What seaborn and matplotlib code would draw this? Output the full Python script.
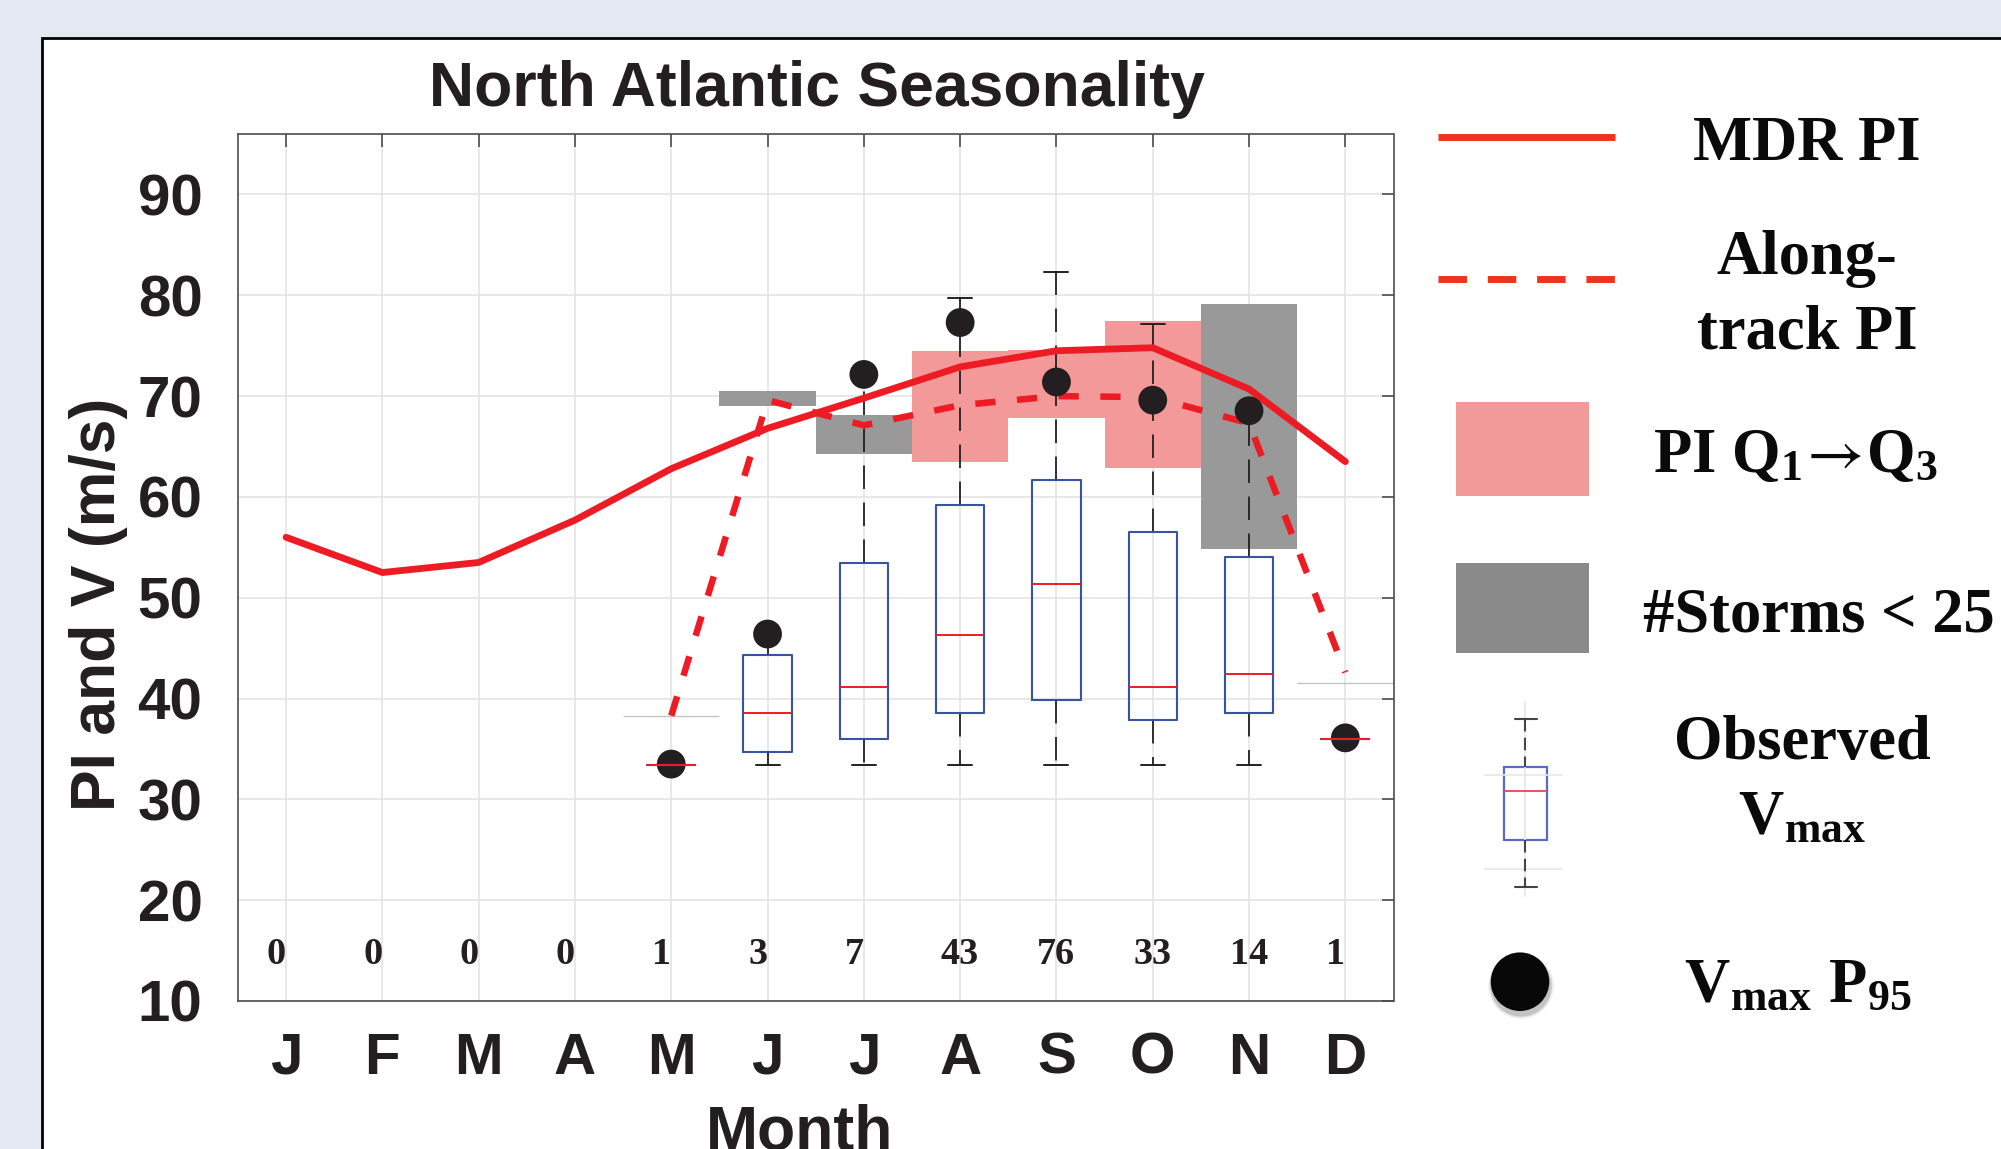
import numpy as np
import pandas as pd
import matplotlib
matplotlib.use('Agg')
import matplotlib.pyplot as plt
import seaborn as sns
from matplotlib.patches import Rectangle, Circle
from matplotlib.lines import Line2D

# ---------------- data ----------------
month_labels = ['J', 'F', 'M', 'A', 'M', 'J', 'J', 'A', 'S', 'O', 'N', 'D']
month_num = np.arange(1, 13)
mdr_pi = [56.0, 52.5, 53.5, 57.7, 62.8, 66.8, 69.8, 72.9, 74.5, 74.8, 70.7, 63.5]
along_track_pi = [np.nan] * 4 + [38.3, 69.6, 67.1, 69.1, 70.0, 69.9, 67.3, 42.6]
pi_q1 = [np.nan] * 4 + [38.3, 69.0, 64.3, 63.5, 67.8, 62.9, 54.8, 41.5]
pi_q3 = [np.nan] * 4 + [38.3, 70.55, 68.1, 74.45, 74.6, 77.45, 79.1, 41.5]
storm_counts = [0, 0, 0, 0, 1, 3, 7, 43, 76, 33, 14, 1]
storm_threshold = 25

box_months = [5, 6, 7, 8, 9, 10, 11, 12]
vmax_low = [33.4, 33.4, 33.4, 33.4, 33.4, 33.4, 33.4, 36.0]
vmax_q1 = [33.4, 34.7, 36.0, 38.6, 39.9, 37.9, 38.55, 36.0]
vmax_med = [33.4, 38.6, 41.15, 46.3, 51.4, 41.15, 42.45, 36.0]
vmax_q3 = [33.4, 44.35, 53.4, 59.15, 61.7, 56.55, 54.0, 36.0]
vmax_high = [33.4, 46.4, 72.2, 79.75, 82.3, 77.15, 68.5, 36.0]
vmax_p95 = [33.5, 46.4, 72.15, 77.3, 71.4, 69.6, 68.55, 36.1]

# ---------------- styling ----------------
W, H, DPI = 2001, 1149, 100
sns.set_theme(style='white')
plt.rcParams['font.family'] = ['Liberation Sans', 'DejaVu Sans']
plt.rcParams['mathtext.fontset'] = 'stix'
SERIF = ['Liberation Serif', 'DejaVu Serif']
RED = '#ED1C24'
PINK = '#F4999A'
GRAY = '#999999'
BLUE = '#3953A4'
DARK = '#231F20'
AXC = '#4D4D4D'

fig = plt.figure(figsize=(W / DPI, H / DPI), dpi=DPI, facecolor='#E3E8F2')
panel = Rectangle((41.5 / W, -0.05), 1.2, 1.05 - 38 / H, transform=fig.transFigure,
                  facecolor='white', edgecolor='black', lw=2.0, zorder=-10)
fig.patches.append(panel)

ax = fig.add_axes([237.9 / W, 1 - 1001 / H, (1393.5 - 237.9) / W, (1001 - 134) / H])
ax.set_zorder(1)
ax.set_facecolor('white')
ax.set_xlim(0.5, 12.5)
ax.set_ylim(10, 96)
ax.grid(True, color='#E4E4E4', lw=1.2)
ax.set_axisbelow(True)

# PI Q1->Q3 patches
df_pi = pd.DataFrame({'month': month_num, 'q1': pi_q1, 'q3': pi_q3, 'n': storm_counts}).dropna()
heights = (df_pi['q3'] - df_pi['q1']).values
face = [GRAY if n < storm_threshold else PINK for n in df_pi['n']]
edge = ['#C4C4C4' if h == 0 else 'none' for h in heights]
ax.bar(df_pi['month'], heights, bottom=df_pi['q1'], width=1.0, color=face,
       edgecolor=edge, linewidth=1.0, zorder=1.5)

# PI lines
df_line = pd.DataFrame({'month': month_num, 'mdr': mdr_pi, 'along': along_track_pi})
sns.lineplot(data=df_line, x='month', y='mdr', ax=ax, color=RED, linewidth=4.9,
             errorbar=None, legend=False, zorder=2.5)
sns.lineplot(data=df_line.dropna(), x='month', y='along', ax=ax, color=RED, linewidth=4.7,
             errorbar=None, legend=False, zorder=2.5)
ax.lines[-1].set_dashes([3.1, 3.3])
ax.lines[-1].set_dash_capstyle('butt')

# boxplots of observed Vmax
stats = [dict(med=m, q1=a, q3=b, whislo=lo, whishi=hi, fliers=[])
         for m, a, b, lo, hi in zip(vmax_med, vmax_q1, vmax_q3, vmax_low, vmax_high)]
bp = ax.bxp(stats, positions=box_months, widths=0.5, showfliers=False, manage_ticks=False,
            boxprops=dict(color=BLUE, lw=1.5),
            medianprops=dict(color=RED, lw=1.4),
            whiskerprops=dict(color=DARK, lw=1.3, linestyle=(0, (13, 7.5))),
            capprops=dict(color=DARK, lw=1.4), capwidths=0.25)
for b in bp['boxes']:
    b.set_zorder(4)
for m in bp['medians']:
    m.set_zorder(4.5)
for w in bp['whiskers']:
    w.set_zorder(2)
for c in bp['caps']:
    c.set_zorder(2)

# Vmax P95 dots
df_dot = pd.DataFrame({'month': box_months, 'p95': vmax_p95})
sns.scatterplot(data=df_dot, x='month', y='p95', ax=ax, s=430, color=DARK,
                edgecolor='none', legend=False, zorder=3)

# storm counts
for m, n in zip(month_num, storm_counts):
    ax.text(m - 0.2, 13.7, str(n), ha='left', va='baseline', fontsize=27.5,
            fontweight='bold', family=SERIF, color=DARK, zorder=5)

ax.set_xlabel('')
ax.set_ylabel('')
ax.set_xticks(month_num)
ax.set_xticklabels(month_labels)
ax.set_yticks(np.arange(10, 100, 10))
ax.tick_params(axis='both', which='major', direction='in', length=9, width=1.2,
               color=AXC, top=True, right=True, labelsize=42, labelcolor=DARK)
ax.tick_params(axis='y', pad=25.5)
ax.tick_params(axis='x', pad=22)
for lab in ax.get_xticklabels() + ax.get_yticklabels():
    lab.set_fontweight('bold')
for s in ax.spines.values():
    s.set_visible(True)
    s.set_color(AXC)
    s.set_linewidth(1.2)

# titles / labels
fig.text(817 / W, 1 - 106 / H, 'North Atlantic Seasonality', ha='center', va='baseline',
         fontsize=45, fontweight='bold', color=DARK)
fig.text(800 / W, 0.0, 'Month', ha='center', va='baseline', fontsize=45,
         fontweight='bold', color=DARK)
fig.text(115 / W, 1 - 604 / H, 'PI and V (m/s)', rotation=90, rotation_mode='anchor',
         ha='center', va='baseline', fontsize=45, fontweight='bold', color=DARK)

# ---------------- legend (drawn in pixel space) ----------------
lax = fig.add_axes([0, 0, 1, 1], facecolor='none')
lax.set_zorder(2)
lax.patch.set_alpha(0)
lax.set_xlim(0, W)
lax.set_ylim(H, 0)
lax.axis('off')
LRED = '#EF3323'
lax.add_line(Line2D([1438, 1615], [136.6, 136.6], color=LRED, lw=5, solid_capstyle='butt'))
dl = Line2D([1438, 1616], [279, 279], color=LRED, lw=5, dash_capstyle='butt')
dl.set_dashes([4.1, 3.0])
lax.add_line(dl)
lax.add_patch(Rectangle((1456, 402), 133, 93.6, facecolor='#F2999A', edgecolor='none'))
lax.add_patch(Rectangle((1456, 563.4), 133, 89.7, facecolor='#8A8A8A', edgecolor='none'))
# box icon
cx = 1525
lax.add_line(Line2D([1485, 1562], [774.7, 774.7], color='#E6E6E6', lw=1.2))
lax.add_line(Line2D([1485, 1562], [868.7, 868.7], color='#E6E6E6', lw=1.2))
lax.add_line(Line2D([cx, cx], [702, 896], color='#E6E6E6', lw=1.2))
lax.add_line(Line2D([1514.5, 1536.5], [719, 719], color='#444444', lw=1.5))
lax.add_line(Line2D([1514.5, 1536.5], [887.3, 887.3], color='#444444', lw=1.5))
lax.add_line(Line2D([cx, cx], [719, 767], color='#444444', lw=1.5, linestyle=(0, (6, 3))))
lax.add_line(Line2D([cx, cx], [840, 887.3], color='#444444', lw=1.5, linestyle=(0, (6, 3))))
lax.add_patch(Rectangle((1503.5, 767.3), 43, 72.7, facecolor='white', edgecolor='#5A6AC0', lw=1.6))
lax.add_line(Line2D([1504.5, 1545.5], [791, 791], color='#F0505A', lw=1.4))
# dot with soft shadow
for r, a in [(33, 0.05), (31.5, 0.08), (30.5, 0.12)]:
    lax.add_patch(Circle((1521, 986), r, facecolor='black', edgecolor='none', alpha=a))
lax.add_patch(Circle((1520, 981.7), 29.3, facecolor='#080808', edgecolor='none'))

tk = dict(fontsize=45, fontweight='bold', family=SERIF, color='#0A0A0A', va='baseline')
lax.text(1807, 160, 'MDR PI', ha='center', **tk)
lax.text(1807, 273.6, 'Along-', ha='center', **tk)
lax.text(1807, 348.3, 'track PI', ha='center', **tk)
lax.text(1653, 472.3, r'PI Q$_{\mathregular{1}}\!\rightarrow\!$Q$_{\mathregular{3}}$', ha='left', **tk)
lax.text(1643, 632, '#Storms < 25', ha='left', **tk)
lax.text(1802, 759.3, 'Observed', ha='center', **tk)
lax.text(1802, 833.3, r'V$_{\mathregular{max}}$', ha='center', **tk)
lax.text(1798, 1001.7, r'V$_{\mathregular{max}}$ P$_{\mathregular{95}}$', ha='center', **tk)

fig.savefig('out.png', dpi=DPI, facecolor=fig.get_facecolor())
